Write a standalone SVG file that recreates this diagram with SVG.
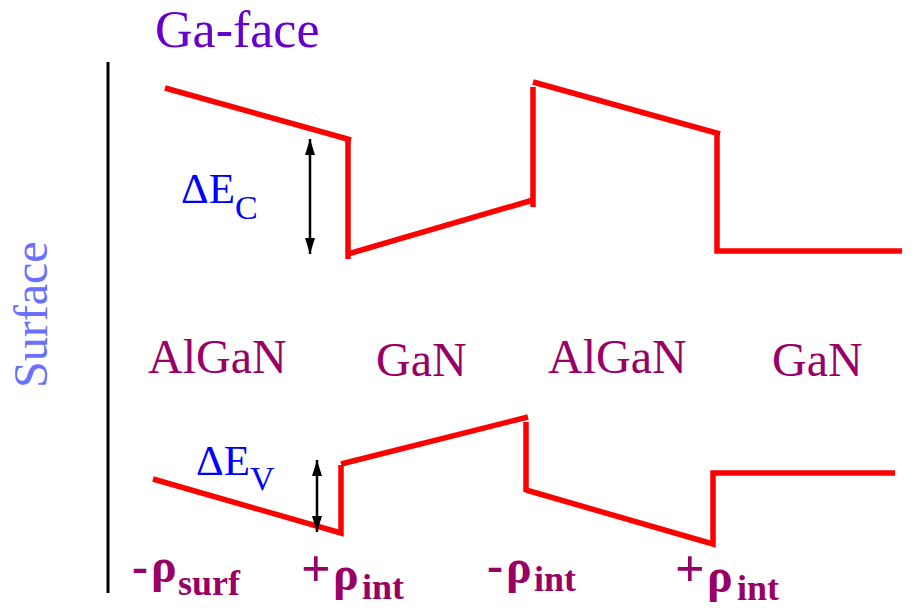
<svg xmlns="http://www.w3.org/2000/svg" width="923" height="608" viewBox="0 0 923 608">
<style>
.band{stroke:#FF0000;stroke-width:5.5;fill:none;stroke-linecap:butt;stroke-linejoin:miter}
.arr{stroke:#000;stroke-width:2.5;fill:none}
.serif{font-family:"Liberation Serif","Times New Roman",serif}
.layer{font-size:48px;fill:#990066}
.rho{font-weight:bold;fill:#990066}
.de{fill:#0000FF}
</style>
<defs>
<marker id="ah" viewBox="0 0 16 10" refX="16" refY="5" markerWidth="16" markerHeight="10" markerUnits="userSpaceOnUse" orient="auto-start-reverse">
<path d="M0,0 L16,5 L0,10 Z" fill="#000"/>
</marker>
</defs>
<rect width="923" height="608" fill="#fff"/>
<g id="surface-line"><line x1="108" y1="62" x2="108" y2="593" stroke="#000" stroke-width="3"/></g>
<g id="title"><text class="serif" x="155" y="47" font-size="52" fill="#6600CC">Ga-face</text></g>
<g id="surface-label"><text class="serif" transform="translate(47,388) rotate(-90)" font-size="48" fill="#6A70FF">Surface</text></g>
<g id="conduction-band">
<line class="band" x1="165" y1="88" x2="351" y2="140"/>
<line class="band" x1="348" y1="140" x2="348" y2="259"/>
<line class="band" x1="348" y1="254" x2="533" y2="200"/>
<line class="band" x1="533" y1="87" x2="533" y2="207"/>
<line class="band" x1="533" y1="82" x2="720" y2="134"/>
<polyline class="band" points="717,134 717,251 902,251"/>
</g>
<g id="valence-band">
<polyline class="band" points="153,479 341,533 341,465"/>
<line class="band" x1="341" y1="464" x2="528" y2="417"/>
<line class="band" x1="526" y1="422" x2="526" y2="492"/>
<polyline class="band" points="526,490 713,544 713,473 895,473"/>
</g>
<g id="connectors">
<line class="arr" x1="310" y1="139" x2="310" y2="254" marker-start="url(#ah)" marker-end="url(#ah)"/>
<line class="arr" x1="317" y1="460" x2="317" y2="532" marker-start="url(#ah)" marker-end="url(#ah)"/>
</g>
<g id="dEc"><text class="serif de" x="181" y="203" font-size="43">ΔE<tspan font-size="34" dy="16">C</tspan></text></g>
<g id="dEv"><text class="serif de" x="196" y="475" font-size="43">ΔE<tspan font-size="34" dy="15">V</tspan></text></g>
<g id="layer1"><text class="serif layer" x="148" y="373">AlGaN</text></g>
<g id="layer2"><text class="serif layer" x="376" y="376">GaN</text></g>
<g id="layer3"><text class="serif layer" x="548" y="373">AlGaN</text></g>
<g id="layer4"><text class="serif layer" x="772" y="376">GaN</text></g>
<g id="rho-surf"><text class="serif rho" font-size="48"><tspan x="132" y="582">-</tspan><tspan x="151" y="582">ρ</tspan><tspan x="178" y="595" font-size="36">surf</tspan></text></g>
<g id="rho-int1"><text class="serif rho" font-size="48"><tspan x="301" y="586" font-size="52">+</tspan><tspan x="333" y="590">ρ</tspan><tspan x="362" y="599" font-size="36">int</tspan></text></g>
<g id="rho-int2"><text class="serif rho" font-size="48"><tspan x="487" y="581">-</tspan><tspan x="506" y="583">ρ</tspan><tspan x="534" y="591" font-size="36">int</tspan></text></g>
<g id="rho-int3"><text class="serif rho" font-size="48"><tspan x="675" y="586" font-size="52">+</tspan><tspan x="707" y="592">ρ</tspan><tspan x="737" y="600" font-size="36">int</tspan></text></g>
</svg>
